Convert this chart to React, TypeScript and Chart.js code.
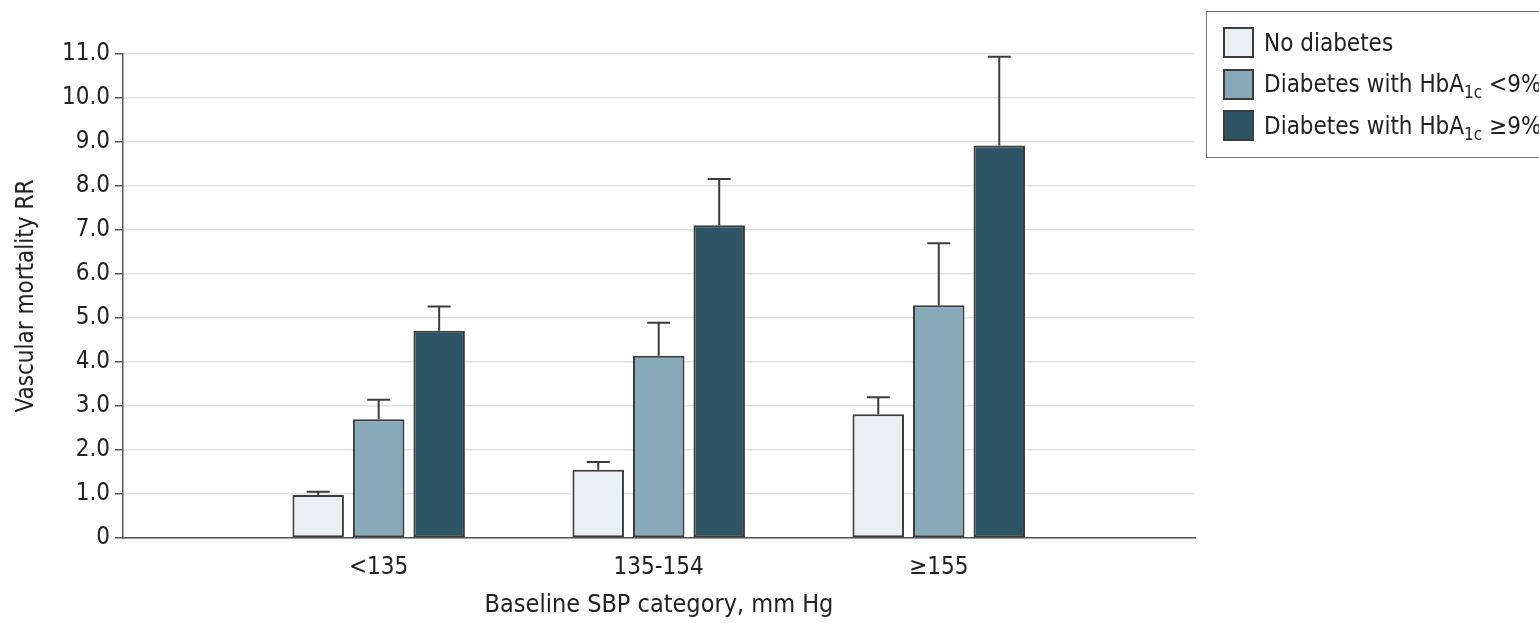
import React, { useEffect, useRef } from "react";
import { Chart, registerables } from "chart.js";

Chart.register(...registerables);

const categories = ["<135", "135-154", "≥155"];
const noDiabetes = [0.98, 1.55, 2.81];
const noDiabetesUpper = [1.05, 1.73, 3.2];
const hbaLow = [2.7, 4.14, 5.29];
const hbaLowUpper = [3.14, 4.89, 6.7];
const hbaHigh = [4.71, 7.11, 8.92];
const hbaHighUpper = [5.26, 8.16, 10.94];

const FONT = '"DejaVu Sans Condensed", "DejaVu Sans", sans-serif';
const COLORS = ["#e8f0f3", "#87a9b8", "#2e5563"];
const EDGE = "#3c3c3c";

const errorBars = {
  id: "errorBars",
  afterDatasetsDraw(chart: any) {
    const ctx = chart.ctx;
    const y = chart.scales.y;
    ctx.save();
    ctx.strokeStyle = EDGE;
    ctx.lineWidth = 2;
    chart.data.datasets.forEach((ds: any, di: number) => {
      const meta = chart.getDatasetMeta(di);
      meta.data.forEach((bar: any, i: number) => {
        const up = ds.upper[i];
        const yTop = bar.y;
        const yUp = y.getPixelForValue(up);
        ctx.beginPath();
        ctx.moveTo(bar.x, yTop);
        ctx.lineTo(bar.x, yUp);
        ctx.moveTo(bar.x - 11.5, yUp);
        ctx.lineTo(bar.x + 11.5, yUp);
        ctx.stroke();
      });
    });
    ctx.restore();
  },
};

export default function App() {
  const ref = useRef<HTMLCanvasElement>(null);
  useEffect(() => {
    document.body.style.margin = "0";
    document.body.style.overflow = "hidden";
    const mk = (label: string, vals: number[], upper: number[], c: string) => ({
      label,
      data: vals.map((v, i) => ({ x: i, y: v })),
      upper,
      backgroundColor: c,
      borderColor: EDGE,
      borderWidth: 2,
      borderSkipped: false,
      categoryPercentage: 0.648,
      barPercentage: 0.851,
    });
    const chart = new Chart(ref.current!, {
      type: "bar",
      data: {
        datasets: [
          mk("No diabetes", noDiabetes, noDiabetesUpper, COLORS[0]),
          mk("Diabetes with HbA1c <9%", hbaLow, hbaLowUpper, COLORS[1]),
          mk("Diabetes with HbA1c ≥9%", hbaHigh, hbaHighUpper, COLORS[2]),
        ] as any,
      },
      options: {
        animation: false,
        responsive: false,
        devicePixelRatio: 1,
        layout: { padding: { left: 0, right: 344, top: 54, bottom: 0 } },
        plugins: { legend: { display: false }, tooltip: { enabled: false } },
        scales: {
          x: {
            type: "linear",
            min: -0.913,
            max: 2.915,
            offset: false,
            afterBuildTicks: (s: any) => {
              s.ticks = categories.map((_, i) => ({ value: i }));
            },
            afterFit: (s: any) => {
              s.height = 85;
            },
            ticks: {
              callback: (v: any) => categories[v] ?? "",
              color: "#222",
              font: { family: FONT, size: 24 },
              padding: 15,
              maxRotation: 0,
              autoSkip: false,
            },
            grid: { display: true, color: "rgba(0,0,0,0)", drawTicks: false },
            border: { display: true, color: "#555", width: 1.5 },
            title: {
              display: true,
              text: "Baseline SBP category, mm Hg",
              color: "#222",
              font: { family: FONT, size: 25 },
              padding: { top: 4, bottom: 3 },
            },
          },
          y: {
            min: 0,
            max: 11,
            afterFit: (s: any) => {
              s.width = 123;
            },
            ticks: {
              stepSize: 1,
              callback: (v: any) => (v === 0 ? "0" : Number(v).toFixed(1)),
              color: "#222",
              font: { family: FONT, size: 24 },
              padding: 5,
            },
            grid: {
              color: "#e2e2e2",
              lineWidth: 1.5,
              tickColor: "#555",
              tickLength: 8,
            },
            border: { display: true, color: "#555", width: 1.5 },
            title: {
              display: true,
              text: "Vascular mortality RR",
              color: "#222",
              font: { family: FONT, size: 24 },
              padding: { top: 12, bottom: 4 },
            },
          },
        },
      } as any,
      plugins: [errorBars],
    });
    return () => chart.destroy();
  }, []);

  const subStyle = { fontSize: 17, verticalAlign: -6, lineHeight: 0 } as any;
  const items = [
    { c: COLORS[0], t: <>No diabetes</> },
    { c: COLORS[1], t: <>Diabetes with HbA<sub style={subStyle}>1c</sub> &lt;9%</> },
    { c: COLORS[2], t: <>Diabetes with HbA<sub style={subStyle}>1c</sub> ≥9%</> },
  ];

  return (
    <div style={{ position: "relative", width: 1539, height: 623, overflow: "hidden", background: "#fff" }}>
      <canvas ref={ref} width={1539} height={623} style={{ display: "block" }} />
      <div
        style={{
          position: "absolute",
          left: 1206,
          top: 11,
          width: 360,
          height: 147,
          border: "1px solid #777",
          boxSizing: "border-box",
          fontFamily: FONT,
          fontSize: 24,
          color: "#222",
        }}
      >
        {items.map((it, i) => (
          <div
            key={i}
            style={{ position: "absolute", left: 16, top: 15 + i * 41.5, height: 31, display: "flex", alignItems: "center", whiteSpace: "nowrap" }}
          >
            <span
              style={{ display: "inline-block", width: 31, height: 31, boxSizing: "border-box", background: it.c, border: `2px solid ${EDGE}`, marginRight: 10 }}
            />
            <span>{it.t}</span>
          </div>
        ))}
      </div>
    </div>
  );
}
